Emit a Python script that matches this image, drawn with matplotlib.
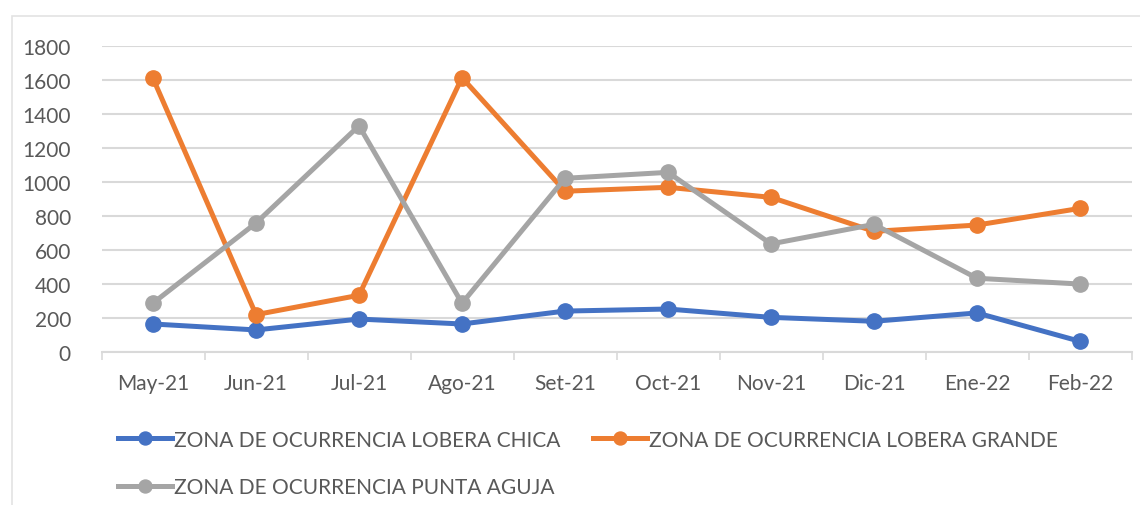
import matplotlib
matplotlib.use("Agg")
import matplotlib.pyplot as plt
from matplotlib.patches import Rectangle

months = ["May-21", "Jun-21", "Jul-21", "Ago-21", "Set-21",
          "Oct-21", "Nov-21", "Dic-21", "Ene-22", "Feb-22"]
lobera_chica = [163, 128, 192, 163, 239, 251, 202, 179, 228, 61]
lobera_grande = [1608, 218, 332, 1612, 944, 967, 908, 708, 745, 843]
punta_aguja = [286, 757, 1329, 285, 1020, 1055, 634, 749, 432, 398]
yticks = [0, 200, 400, 600, 800, 1000, 1200, 1400, 1600, 1800]

label_chica = "ZONA DE OCURRENCIA LOBERA CHICA"
label_grande = "ZONA DE OCURRENCIA LOBERA GRANDE"
label_aguja = "ZONA DE OCURRENCIA PUNTA AGUJA"

plt.rcParams['font.family'] = ['Lato', 'DejaVu Sans']
txt = "#595959"
grid = "#D9D9D9"

W, H = 1140, 506
fig = plt.figure(figsize=(W / 100, H / 100), dpi=100)
# outer chart frame (only top and left edges show in the crop)
fig.patches.append(Rectangle((12 / W, -0.1), 1.2, (H - 17) / H + 0.1,
                             transform=fig.transFigure, fill=False,
                             edgecolor="#E3E3E3", linewidth=1.2))

ax = fig.add_axes([101.5 / W, 1 - 352.7 / H, 1030 / W, 306 / H])
x = range(len(months))
lw, ms = 3.6, 11
l1, = ax.plot(x, lobera_chica, color="#4472C4", lw=lw, marker="o", ms=ms, label=label_chica, zorder=3)
l2, = ax.plot(x, lobera_grande, color="#ED7D31", lw=lw, marker="o", ms=ms, label=label_grande, zorder=3)
l3, = ax.plot(x, punta_aguja, color="#A5A5A5", lw=lw, marker="o", ms=ms, label=label_aguja, zorder=3)

ax.set_xlim(-0.5, len(months) - 0.5)
ax.set_ylim(0, 1800)
ax.set_yticks(yticks)
ax.set_xticks(list(x))
ax.set_xticklabels(months)
ax.set_xticks([i - 0.5 for i in range(len(months) + 1)], minor=True)
ax.tick_params(axis="x", which="major", length=0, pad=15, labelsize=15, labelcolor=txt)
ax.tick_params(axis="x", which="minor", length=6, width=1.2, color=grid, direction="out")
ax.tick_params(axis="y", length=0, pad=22, labelsize=15, labelcolor=txt)
ax.grid(axis="y", color=grid, lw=1.5, zorder=0)
ax.set_axisbelow(True)
for s in ["top", "right", "left"]:
    ax.spines[s].set_visible(False)
ax.spines["bottom"].set_color(grid)
ax.spines["bottom"].set_linewidth(1.5)

leg = fig.legend([l1, l3, l2], [label_chica, label_aguja, label_grande],
                 ncol=2, loc="upper left", bbox_to_anchor=(99 / W, 1 - 412 / H),
                 frameon=False, fontsize=15, handlelength=2.6, handletextpad=0.1,
                 columnspacing=1.55, labelspacing=1.3, markerscale=0.85)
for t in leg.get_texts():
    t.set_color(txt)

fig.savefig("out.png", dpi=100)
